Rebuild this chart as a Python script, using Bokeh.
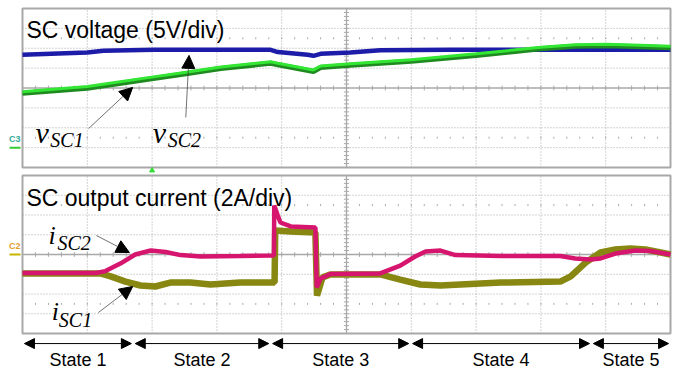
from bokeh.plotting import figure
from bokeh.models import Range1d, Arrow, NormalHead
from bokeh.core.properties import value
from bokeh.embed import file_html
from bokeh.resources import INLINE

# ---------------- data (time in divisions, amplitude in divisions) ----------
# SC voltage panel (5 V/div)
vsc2_t = [0, 1.0, 1.25, 2.02, 3.83, 3.94, 4.40, 4.49, 4.60, 5.06, 5.52, 6.6, 8.0, 10.0]
vsc2 = [1.67, 1.79, 1.87, 1.92, 1.92, 1.81, 1.67, 1.62, 1.72, 1.79, 1.90, 1.92, 1.92, 1.92]
vsc1_t = [0, 1.0, 2.02, 2.55, 3.06, 3.83, 3.94, 4.49, 4.60, 5.06, 6.0, 7.0, 8.0, 8.53, 9.01, 9.54, 10.0]
vsc1 = [-0.19, 0.07, 0.56, 0.81, 1.06, 1.32, 1.25, 0.91, 1.11, 1.22, 1.42, 1.72, 2.05, 2.18, 2.20, 2.15, 2.10]

# SC output current panel (2 A/div)
isc2_t = [0, 1.13, 1.28, 1.51, 1.74, 1.98, 2.21, 2.44, 2.75, 3.36, 3.86, 3.88, 3.885, 3.94, 3.98,
          4.14, 4.52, 4.54, 4.60, 4.75, 5.52, 5.83, 6.06, 6.22, 6.45, 6.68, 7.38, 8.30, 8.53,
          8.77, 8.92, 9.15, 9.46, 9.69, 10.0]
isc2 = [-0.94, -0.94, -0.84, -0.46, 0.0, 0.20, 0.13, -0.03, -0.10, -0.08, -0.05, -0.05, 2.48, 1.97, 1.62,
        1.42, 1.37, -1.67, -1.22, -0.99, -0.96, -0.56, -0.10, 0.15, 0.20, -0.03, -0.08, -0.08, -0.20,
        -0.25, -0.20, 0.05, 0.20, 0.18, 0.0]
isc1_t = [0, 1.20, 1.36, 1.59, 1.82, 2.05, 2.28, 2.59, 2.90, 3.36, 3.89, 3.90, 4.14, 4.52, 4.545,
          4.63, 4.75, 5.52, 5.83, 6.14, 6.45, 6.76, 7.38, 8.30, 8.46, 8.69, 8.92, 9.15, 9.38,
          9.61, 9.85, 10.0]
isc1 = [-0.96, -0.96, -1.11, -1.37, -1.57, -1.62, -1.42, -1.42, -1.52, -1.42, -1.42, 1.22, 1.16, 1.11, -2.08,
        -1.16, -1.01, -1.01, -1.27, -1.52, -1.57, -1.52, -1.42, -1.37, -1.11, -0.41, 0.10, 0.25, 0.30,
        0.25, 0.10, 0.0]

state_names = ["State 1", "State 2", "State 3", "State 4", "State 5"]
state_bounds = [0, 1.71, 3.83, 5.99, 8.78, 10.0]

# ---------------- layout ----------------
W, H = 673, 369
PX = 64.8            # px per time division
X_LEFT = 22          # px of t = 0
PYV, V_TOP = 19.875, 8     # voltage panel: px/div, px of +4 div
PYC, C_TOP = 19.75, 175    # current panel: px/div, px of +4 div
x0 = -X_LEFT / PX
v_end = 4 + V_TOP / PYV
c_end = 4 + C_TOP / PYC

p = figure(width=W, height=H, output_backend="svg", toolbar_location=None,
           x_range=Range1d(x0, x0 + W / PX),
           y_range=Range1d(c_end - H / PYC, c_end),
           x_axis_location=None, y_axis_location=None, min_border=0)
p.extra_y_ranges = {"v": Range1d(v_end - H / PYV, v_end)}
p.outline_line_color = None
p.xgrid.visible = False
p.ygrid.visible = False
p.background_fill_color = "white"
p.border_fill_color = "white"

GRID = "#a8a8a8"
SANS = value("Liberation Sans")
SERIF = value("Liberation Serif")


def graticule(rn):
    kw = dict(y_range_name=rn)
    xs = [1, 2, 3, 4, 6, 7, 8, 9]
    p.segment(x0=xs, y0=[-4] * len(xs), x1=xs, y1=[4] * len(xs),
              line_color=GRID, line_dash="1 2", line_width=1, **kw)
    ys = [-3, -2, -1, 1, 2, 3]
    p.segment(x0=[0] * len(ys), y0=ys, x1=[10] * len(ys), y1=ys,
              line_color=GRID, line_dash="1 2", line_width=1, **kw)
    p.segment(x0=[5, 0], y0=[-4, 0], x1=[5, 10], y1=[4, 0],
              line_color=GRID, line_width=1.3, **kw)
    tx = [i * 0.2 for i in range(1, 50)]
    p.segment(x0=tx, y0=[-0.12] * len(tx), x1=tx, y1=[0.12] * len(tx),
              line_color=GRID, line_width=1, **kw)
    ty = [-4 + i * 0.2 for i in range(1, 40)]
    p.segment(x0=[4.96] * len(ty), y0=ty, x1=[5.04] * len(ty), y1=ty,
              line_color=GRID, line_width=1, **kw)
    for yy in (2.5, -2.5):
        p.segment(x0=tx, y0=[yy - 0.05] * len(tx), x1=tx, y1=[yy + 0.05] * len(tx),
                  line_color=GRID, line_width=1, **kw)
    p.quad(left=[0], right=[10], bottom=[-4], top=[4], fill_color=None,
           line_color=GRID, line_width=2, **kw)


graticule("v")
graticule("default")

# ---------------- traces ----------------
p.line(vsc2_t, vsc2, line_color="#1c1ca8", line_width=4.5, y_range_name="v")
p.line(vsc1_t, [v - 0.08 for v in vsc1], line_color="#1f8a1f", line_width=5, y_range_name="v")
p.line(vsc1_t, vsc1, line_color="#33e633", line_width=3, y_range_name="v")

p.line(isc1_t, isc1, line_color="#878712", line_width=6.5)
p.line(isc2_t, isc2, line_color="#d6156e", line_width=4.5)

# ---------------- channel markers ----------------
p.text(x=[-0.21], y=[-2.8], text=["C3"], text_font=SANS, text_font_size="9px",
       text_font_style="bold", text_color="#33aa99", y_range_name="v")
p.segment(x0=[-0.2], y0=[-3], x1=[-0.03], y1=[-3], line_color="#33cc33", line_width=2, y_range_name="v")
p.text(x=[-0.21], y=[0.2], text=["C2"], text_font=SANS, text_font_size="9px",
       text_font_style="bold", text_color="#e0a030")
p.segment(x0=[-0.2], y0=[0], x1=[-0.03], y1=[0], line_color="#c8b400", line_width=2)
p.scatter(x=[2.0], y=[-4.15], marker="triangle", size=5, color="#33dd33", y_range_name="v")

# ---------------- titles ----------------
p.text(x=[0.06], y=[2.92], text=["SC voltage (5V/div)"], text_font=SANS, text_font_size="23px",
       text_color="black", text_baseline="alphabetic", y_range_name="v")
p.text(x=[0.06], y=[2.84], text=["SC output current (2A/div)"], text_font=SANS, text_font_size="23px",
       text_color="black", text_baseline="alphabetic")


# ---------------- trace labels ----------------
def italic(x, y, t, size, rn):
    p.text(x=[x], y=[y], text=[t], text_font=SERIF, text_font_style="italic",
           text_font_size=size, text_color="black", text_baseline="alphabetic", y_range_name=rn)


italic(0.20, -2.24, "v", "30px", "v")
italic(0.43, -2.64, "SC1", "20px", "v")
italic(2.01, -2.24, "v", "30px", "v")
italic(2.24, -2.64, "SC2", "20px", "v")
italic(0.40, 0.96, "i", "26px", "default")
italic(0.54, 0.56, "SC2", "20px", "default")
italic(0.45, -2.89, "i", "26px", "default")
italic(0.56, -3.34, "SC1", "20px", "default")


def pointer(xs, ys, xe, ye, rn):
    p.add_layout(Arrow(end=NormalHead(size=13, fill_color="black", line_color="black"),
                       x_start=xs, y_start=ys, x_end=xe, y_end=ye, line_width=0.7,
                       line_color="#333333", y_range_name=rn))


pointer(1.02, -2.04, 1.70, 0.03, "v")
pointer(2.52, -1.48, 2.57, 1.64, "v")
pointer(1.14, 0.96, 1.65, 0.10, "default")
pointer(1.17, -2.94, 1.70, -1.62, "default")

# ---------------- state row ----------------
for i, name in enumerate(state_names):
    a, b = state_bounds[i], state_bounds[i + 1]
    p.add_layout(Arrow(start=NormalHead(size=10, fill_color="black", line_color="black"),
                       end=NormalHead(size=10, fill_color="black", line_color="black"),
                       x_start=a + 0.03, y_start=-4.51, x_end=b - 0.03, y_end=-4.51,
                       line_width=1, line_color="black"))
    p.text(x=[(a + b) / 2], y=[-5.36], text=[name], text_font=SANS, text_font_size="18px",
           text_color="black", text_align="center", text_baseline="alphabetic")

open("out.html", "w").write(file_html(p, INLINE))
